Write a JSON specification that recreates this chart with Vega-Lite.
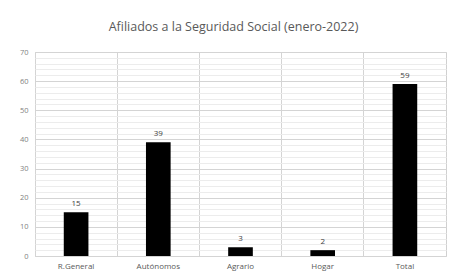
{
  "$schema": "https://vega.github.io/schema/vega-lite/v6.json",
  "width": 411,
  "height": 204,
  "autosize": "none",
  "padding": {"left": 35, "top": 52, "right": 4, "bottom": 23},
  "background": "white",
  "title": {
    "text": "Afiliados a la Seguridad Social (enero-2022)",
    "font": "Open Sans",
    "fontSize": 12.5,
    "fontWeight": "normal",
    "color": "#595959",
    "offset": 15,
    "dx": -7
  },
  "config": {
    "view": {"stroke": "#d0d0d0", "strokeWidth": 1},
    "font": "Open Sans"
  },
  "data": {
    "values": [
      {"categoria": "R.General", "afiliados": 15},
      {"categoria": "Autónomos", "afiliados": 39},
      {"categoria": "Agrario", "afiliados": 3},
      {"categoria": "Hogar", "afiliados": 2},
      {"categoria": "Total", "afiliados": 59}
    ]
  },
  "encoding": {
    "x": {
      "field": "categoria",
      "type": "nominal",
      "sort": null,
      "scale": {"paddingInner": 0, "paddingOuter": 0}
    },
    "y": {
      "field": "afiliados",
      "type": "quantitative",
      "scale": {"domain": [0, 70], "nice": false}
    }
  },
  "layer": [
    {
      "mark": {"type": "bar", "color": "black", "width": {"band": 0.3}},
      "encoding": {
        "x": {
          "field": "categoria",
          "type": "nominal",
          "sort": null,
          "axis": {
            "title": null,
            "labelAngle": 0,
            "labelFontSize": 8,
            "labelColor": "#595959",
            "labelPadding": 6,
            "ticks": false,
            "domain": false,
            "grid": false
          }
        },
        "y": {
          "field": "afiliados",
          "type": "quantitative",
          "axis": {
            "orient": "left",
            "title": null,
            "values": [2,4,6,8,12,14,16,18,22,24,26,28,32,34,36,38,42,44,46,48,52,54,56,58,62,64,66,68],
            "labels": false,
            "ticks": false,
            "domain": false,
            "grid": true,
            "gridColor": "#ececec",
            "gridWidth": 1
          }
        }
      }
    },
    {
      "mark": {"type": "text", "dy": -8, "fontSize": 8, "color": "#404040"},
      "encoding": {
        "text": {"field": "afiliados", "type": "quantitative"},
        "x": {
          "field": "categoria",
          "type": "nominal",
          "sort": null,
          "axis": {
            "title": null,
            "labels": false,
            "ticks": false,
            "domain": false,
            "grid": true,
            "bandPosition": 0,
            "gridColor": "#d4d4d4"
          }
        },
        "y": {
          "field": "afiliados",
          "type": "quantitative",
          "axis": {
            "orient": "left",
            "title": null,
            "values": [0,10,20,30,40,50,60,70],
            "labelFontSize": 7.5,
            "labelColor": "#7f7f7f",
            "labelPadding": 7,
            "labelOverlap": false,
            "ticks": false,
            "domain": false,
            "grid": true,
            "gridColor": "#d4d4d4",
            "gridWidth": 1
          }
        }
      }
    }
  ],
  "resolve": {"axis": {"x": "independent", "y": "independent"}}
}
